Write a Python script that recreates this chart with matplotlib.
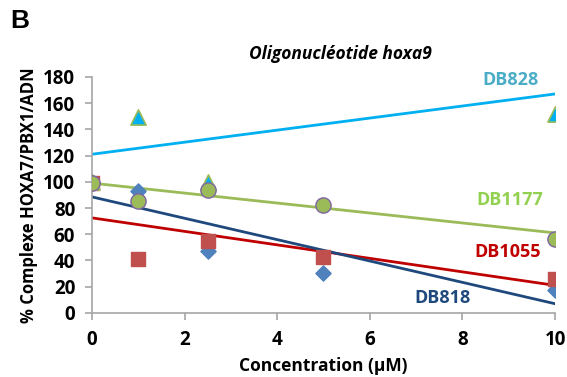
import numpy as np
import matplotlib
matplotlib.use("Agg")
import matplotlib.pyplot as plt

# Data
conc = [0, 1, 2.5, 5, 10]
db818 = [100, 93, 47, 30.5, 17.5]
db1055 = [99, 41, 55, 43, 26]
db1177 = [99, 85, 94, 82, 56.5]
db828_x = [0, 1, 2.5, 10]
db828 = [100, 149.5, 100, 152]

# trend lines (value at x=0, value at x=10)
trend_x = [0, 10]
trend_818 = [88.5, 7]
trend_1055 = [72.5, 21]
trend_1177 = [99, 61]
trend_828 = [121, 167]

plt.rcParams['font.family'] = ['Open Sans', 'DejaVu Sans']

fig = plt.figure(figsize=(5.67, 3.77), dpi=100)
ax = fig.add_axes([0.162, 0.170, 0.817, 0.626])

# markers
ax.scatter(conc, db818, marker='D', s=60, color='#4F81BD', zorder=3)
ax.scatter(conc, db1055, marker='s', s=105, color='#C0504D', zorder=3)
ax.scatter(db828_x, db828, marker='^', s=120, color='#00B0F0',
           edgecolor='#9BBB59', linewidth=1.2, zorder=4)
ax.scatter(conc, db1177, marker='o', s=120, color='#9BBB59',
           edgecolor='#8064A2', linewidth=1.0, zorder=5)

# trend lines
ax.plot(trend_x, trend_828, color='#00B0F0', lw=2, zorder=2)
ax.plot(trend_x, trend_1177, color='#9BBB59', lw=2, zorder=2)
ax.plot(trend_x, trend_1055, color='#C00000', lw=2, zorder=2)
ax.plot(trend_x, trend_818, color='#1F497D', lw=2, zorder=2)

ax.set_xlim(0, 10)
ax.set_ylim(0, 180)
ax.set_xticks(range(0, 11, 2))
ax.set_yticks(range(0, 181, 20))

for s in ['top', 'right']:
    ax.spines[s].set_visible(False)
for s in ['left', 'bottom']:
    ax.spines[s].set_color('#A6A6A6')
    ax.spines[s].set_linewidth(1.2)
ax.tick_params(colors='#A6A6A6', length=5, width=1.2, direction='out')
for lab in ax.get_xticklabels() + ax.get_yticklabels():
    lab.set_color('black')
    lab.set_fontweight('bold')
    lab.set_fontsize(13.5)
ax.tick_params(axis='x', pad=7)
ax.tick_params(axis='y', pad=7)

ax.set_xlabel('Concentration (µM)', fontsize=12.5, fontweight='bold', labelpad=5)
ax.set_ylabel('% Complexe HOXA7/PBX1/ADN', fontsize=12, fontweight='bold', labelpad=4)

fig.text(340 / 567, 1 - 54 / 377, 'Oligonucléotide hoxa9', fontsize=12.5,
         fontweight='bold', style='italic', ha='center', va='center')
fig.text(10 / 567, 1 - 21 / 377, 'B', fontsize=19, fontweight='bold',
         family='Liberation Sans', ha='left', va='center')

# series labels
lbl = dict(fontsize=13, fontweight='bold', ha='center', va='center')
fig.text(510 / 567, 1 - 80 / 377, 'DB828', color='#4BACC6', **lbl)
fig.text(510 / 567, 1 - 200 / 377, 'DB1177', color='#92D050', **lbl)
fig.text(508 / 567, 1 - 252 / 377, 'DB1055', color='#C00000', **lbl)
fig.text(442 / 567, 1 - 298 / 377, 'DB818', color='#1F497D', **lbl)

fig.savefig('out.png', dpi=100)
